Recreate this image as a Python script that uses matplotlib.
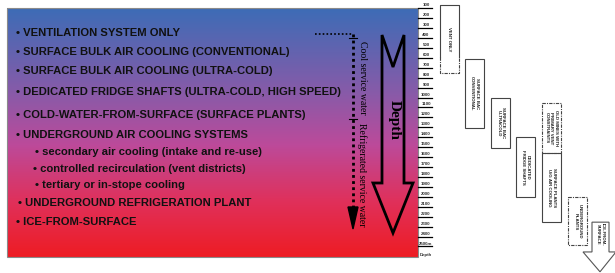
import numpy as np
import matplotlib
matplotlib.use("Agg")
import matplotlib.pyplot as plt
from matplotlib.colors import LinearSegmentedColormap
from matplotlib.patches import Polygon, Rectangle

# cooling methods listed on the left (text, indent level)
methods = ["VENTILATION SYSTEM ONLY",
           "SURFACE BULK AIR COOLING (CONVENTIONAL)",
           "SURFACE BULK AIR COOLING (ULTRA-COLD)",
           "DEDICATED FRIDGE SHAFTS (ULTRA-COLD, HIGH SPEED)",
           "COLD-WATER-FROM-SURFACE (SURFACE PLANTS)",
           "UNDERGROUND AIR COOLING SYSTEMS",
           "secondary air cooling (intake and re-use)",
           "controlled recirculation (vent districts)",
           "tertiary or in-stope cooling",
           "UNDERGROUND REFRIGERATION PLANT",
           "ICE-FROM-SURFACE"]
levels = [0, 0, 0, 0, 0, 0, 1, 1, 1, 0, 0]

# depth scale (m)
depth_ticks = list(range(100, 2600, 100))
depth_labels = [str(d) for d in depth_ticks[:-1]] + ["2500m"]

# depth ranges of each method box (m), dashed = uncertain range
box_names = ["VENT ONLY", "SURFACE BAC\nCONVENTIONAL", "SURFACE BAC\nULTRACOLD",
             "DEDICATED\nFRIDGE SHAFTS", "OLD MINES WITH\nPRIMARY VENT\nCONSTRAINTS",
             "SURFACE PLANTS\nU/G AIR COOLING", "UNDERGROUND\nPLANTS"]
box_top = [90, 640, 1030, 1420, 1080, 1580, 2030]
box_bottom = [780, 1330, 1530, 2030, 1580, 2280, 2510]
box_dashed = [False, False, False, False, True, False, True]
ice_top, ice_shoulder, ice_tip = 2280, 2580, 2780

fig = plt.figure(figsize=(6.15, 2.73), dpi=100)
ax = fig.add_axes([0, 0, 1, 1])
ax.set_xlim(0, 615)
ax.set_ylim(273, 0)
ax.axis("off")

# gradient background
cmap = LinearSegmentedColormap.from_list(
    "bg", [(0, "#3d6cb6"), (0.35, "#8a5aa8"), (0.55, "#bc4a9a"),
           (0.78, "#e0305a"), (1, "#ee1c24")])
grad = np.linspace(0, 1, 256).reshape(-1, 1)
ax.imshow(grad, cmap=cmap, aspect="auto", extent=[7, 418, 257, 8], zorder=0)
ax.add_patch(Rectangle((7, 8), 411, 249, fill=False, ec="#8a8a8a", lw=0.8))

item_y = [33, 52, 71, 92, 115, 135, 152, 169, 185, 203, 222]
item_x = [16, 16, 16, 16, 16, 16, 35, 33, 35, 18, 16]
for name, lev, x, y in zip(methods, levels, item_x, item_y):
    ax.text(x, y, "\u2022 " + name, fontsize=8.1, fontweight="bold",
            family="Liberation Sans", color="#111111", va="center", ha="left")

# service water dotted arrow
ax.plot([315, 352], [34, 34], color="black", lw=1.2, ls=(0, (1, 1.3)))
ax.plot([353, 353], [34, 208], color="black", lw=2, ls=(0, (1, 1.2)))
ax.add_patch(Polygon([(348, 207), (358, 207), (353, 229)], closed=True,
                     fc="black", ec="black"))
for y in [38, 119]:
    ax.plot([349, 357], [y, y], color="black", lw=0.8)
ax.text(362, 78, "Cool service water", rotation=270, fontsize=7,
        family="Liberation Serif", va="center", ha="center")
ax.text(362, 175, "Refrigerated service water", rotation=270, fontsize=7,
        family="Liberation Serif", va="center", ha="center")

# big hollow depth arrow
ax.add_patch(Polygon([(382, 35), (393, 67), (404, 35), (404, 183), (413, 183),
                      (393, 233), (373, 183), (382, 183)], closed=True,
                     fill=False, ec="black", lw=2, joinstyle="miter"))
ax.text(394, 120, "Depth", rotation=270, fontsize=11, fontweight="bold",
        family="Liberation Serif", va="center", ha="center")

# right side: depth ruler and ranges
axr = fig.add_axes([0, 0, 1, 1])
axr.set_xlim(0, 615)
axr.set_ylim(2792, 42.6)
axr.axis("off")
axr.patch.set_alpha(0)

for d, lab in zip(depth_ticks, depth_labels):
    axr.plot([418, 432], [d + 25, d + 25], color="black", lw=0.9)
    axr.text(426, d - 5, lab, fontsize=3.2, fontweight="bold",
             family="Liberation Sans", color="#333333", ha="center", va="center")
axr.text(426, 2610, "Depth", fontsize=3.2, fontweight="bold",
         family="Liberation Sans", color="#333333", ha="center", va="center")

box_x = [440, 465, 491, 516, 542, 542, 568]
box_w = 19
for name, x, t, b, dash in zip(box_names, box_x, box_top, box_bottom, box_dashed):
    if name == "VENT ONLY":
        axr.plot([x, x, x + box_w, x + box_w], [620, t, t, 620], color="#444444", lw=0.8)
        axr.plot([x, x, x + box_w, x + box_w], [620, b, b, 620], color="#444444",
                 lw=0.8, ls=(0, (3, 1, 1, 1)))
    else:
        axr.add_patch(Rectangle((x, t), box_w, b - t, fill=False, ec="#444444",
                                lw=0.8, ls=(0, (3, 1, 1, 1)) if dash else "-"))
    axr.text(x + box_w / 2, (t + b) / 2, name, rotation=270, fontsize=3.2,
             fontweight="bold", family="Liberation Sans", color="#222222",
             ha="center", va="center", multialignment="center", linespacing=1.1)

# ice-from-surface arrow
axr.add_patch(Polygon([(592, ice_top), (609, ice_top), (609, ice_shoulder),
                       (616, ice_shoulder), (600, ice_tip), (583, ice_shoulder),
                       (592, ice_shoulder)], closed=True, fill=False,
                      ec="#555555", lw=0.8))
axr.text(600.5, (ice_top + ice_shoulder) / 2 - 30, "ICE-FROM-\nSURFACE", rotation=270,
         fontsize=3.2, fontweight="bold", family="Liberation Sans", color="#222222",
         ha="center", va="center", multialignment="center", linespacing=1.1)

fig.savefig("out.png", dpi=100)
